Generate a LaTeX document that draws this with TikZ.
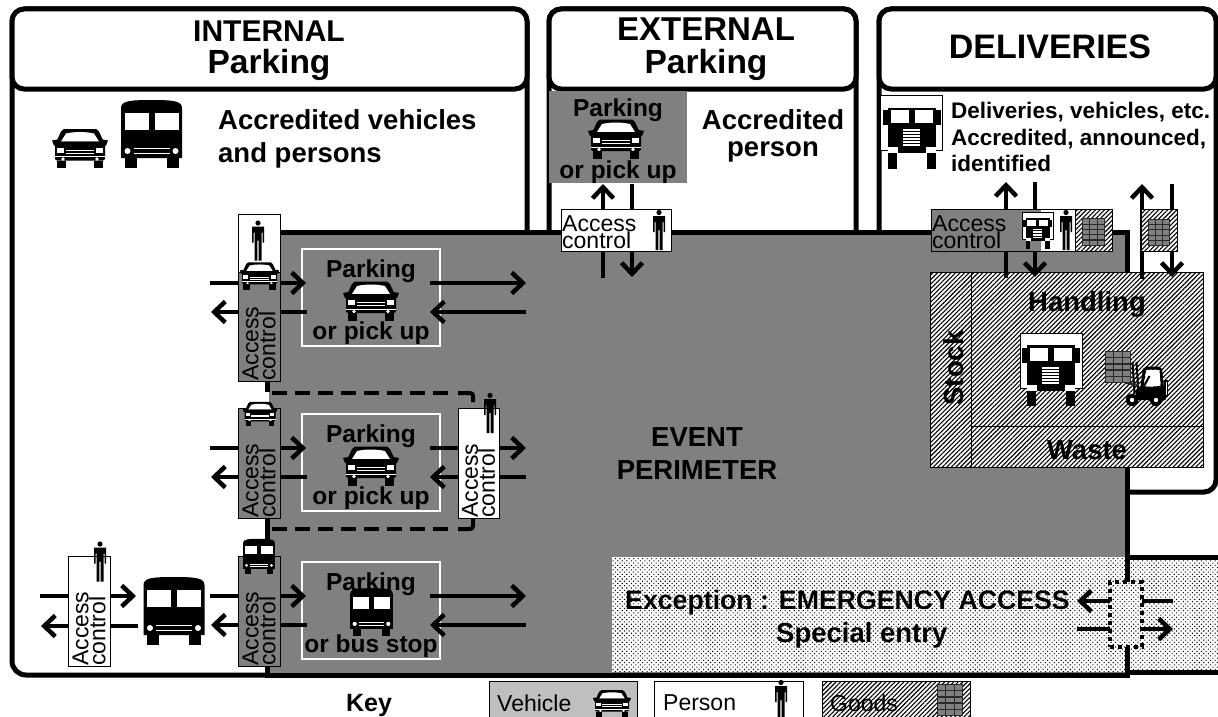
\documentclass[tikz,border=0pt]{standalone}
\usepackage{fontspec}
\setmainfont{Liberation Sans}
\usetikzlibrary{arrows.meta,patterns.meta}
\definecolor{zonegrey}{HTML}{808080}
\definecolor{keygrey}{HTML}{BFBFBF}
\definecolor{crategrey}{HTML}{2A2A2A}
\tikzset{
  frameline/.style={line width=5pt},
  titlebox/.style={draw,line width=5pt,rounded corners=12pt,fill=white,minimum height=80pt,inner sep=0pt},
  titletext/.style={font=\bfseries,align=center,inner sep=0pt},
  arw/.style={line width=4.5pt,-{Straight Barb[length=11pt,width=21pt,line width=4.5pt]}},
  hatchfill/.style={preaction={fill=white},pattern={Lines[angle=45,distance=3.2pt,line width=1.1pt]}},
  dotfill/.style={preaction={fill=white},pattern={Dots[angle=45,distance=3.2pt,radius=0.75pt]}},
  boldtext/.style={font=\fontsize{27.5}{33}\selectfont\bfseries,inner sep=0pt},
  parktext/.style={font=\fontsize{24.5}{28}\selectfont\bfseries,inner sep=0pt},
  accesstext/.style={font=\fontsize{23}{17}\selectfont,align=left,inner sep=0pt},
  keytext/.style={font=\fontsize{23}{26}\selectfont,inner sep=0pt,anchor=west},
  greygate/.style={draw,line width=1pt,fill=zonegrey,inner sep=0pt},
  whitegate/.style={draw,line width=1pt,fill=white,inner sep=0pt},
  parkframe/.style={draw=white,line width=2pt,inner sep=0pt,minimum width=138pt,minimum height=97pt},
  % icons, drawn at the size of the reference
  carpic/.pic={
    \fill (-16,-19.5) -- (16,-19.5) -- (19,-17) -- (24,-6) -- (-24,-6) -- (-19,-17) -- cycle;
    \fill[white] (-14,-15) .. controls (-5,-17) and (5,-17) .. (14,-15) -- (19,-7) -- (-19,-7) -- cycle;
    \fill (-28,-8) -- (-23,-9) -- (-23,-3) -- (-26,-3) -- cycle;
    \fill (28,-8) -- (23,-9) -- (23,-3) -- (26,-3) -- cycle;
    \fill[rounded corners=2pt] (-25,-7) rectangle (25,12);
    \fill[white] (-23,-1) rectangle (-16,4);
    \fill[white] (16,-1) rectangle (23,4);
    \fill[white] (-14,1) rectangle (14,2);
    \fill[white] (-14,4) rectangle (14,5);
    \fill[white] (-25,7.5) rectangle (25,8.5);
    \fill[white] (-17,10.5) circle (1.8);
    \fill[white] (17,10.5) circle (1.8);
    \fill (-23,12) rectangle (-14,19.5);
    \fill (14,12) rectangle (23,19.5);
  },
  buspic/.pic={
    \fill (-30.5,24) -- (-30.5,-26) .. controls (-30.5,-33) and (-22,-34) .. (0,-34)
      .. controls (22,-34) and (30.5,-33) .. (30.5,-26) -- (30.5,24) -- cycle;
    \fill[white] (-27,-21) rectangle (-3,-4);
    \fill[white] (3,-21) rectangle (27,-4);
    \fill[white] (-24,17) circle (3);
    \fill[white] (24,17) circle (3);
    \fill[white] (-18,14) rectangle (18,15);
    \fill[white] (-18,18.5) rectangle (18,19.5);
    \fill (-27,24) rectangle (-15,34);
    \fill (15,24) rectangle (27,34);
  },
  truckpic/.pic={
    \draw[line width=1pt,fill=white] (-31,-36.5) rectangle (31,18.5);
    \fill (-24,-24.5) rectangle (24,21);
    \fill (-29,-22) rectangle (-24,-7);
    \fill (29,-22) rectangle (24,-7);
    \fill[white] (-21,-22) rectangle (-3,-9);
    \fill[white] (3,-22) rectangle (21,-9);
    \fill[white] (-24,15) rectangle (-14,21);
    \fill[white] (14,15) rectangle (24,21);
    \foreach \gy in {-3,0,3,6,9,12}{
      \fill[white] (-9,\gy) rectangle (8,\gy+2);
    }
    \fill (-24,21) rectangle (-15,36.5);
    \fill (15,21) rectangle (24,36.5);
  },
  personpic/.pic={
    \fill (0,-17.5) circle (2.6);
    \fill (-6,-14) -- (6,-14) -- (6,2) -- (4.5,2) -- (4.5,-8) -- (3.5,-8) -- (3.5,20)
      -- (0.6,20) -- (0.6,0) -- (-0.6,0) -- (-0.6,20) -- (-3.5,20) -- (-3.5,-8)
      -- (-4.5,-8) -- (-4.5,2) -- (-6,2) -- cycle;
  },
  cratepic/.pic={
    \fill[crategrey] (-13,-16) rectangle (13,16);
    \foreach \cx in {-8.4,0,8.4}{
      \foreach \cy in {-12.4,-6.2,0,6.2,12.4}{
        \fill[zonegrey] (\cx-3.6,\cy-2.4) rectangle (\cx+3.6,\cy+2.4);
      }
    }
  },
  forkliftpic/.pic={
    \draw[line width=2pt] (-15,-22) -- (-13,10);
    \draw[line width=2pt] (-11,-22) -- (-9,10);
    \draw[line width=2pt,crategrey] (-22,-1) -- (-9,1);
    \draw[line width=3pt,rounded corners=2pt] (-6,6) -- (-3,-16) -- (13,-16) -- (15,4);
    \fill[white] (-1,-14) -- (12,-14) -- (13,2) -- (-4,3) -- cycle;
    \fill (-12,6) -- (-6,2) -- (4,3) -- (18,1) -- (18,16) -- (-12,16) -- cycle;
    \draw[line width=2pt] (2,-8) -- (-4,3);
    \fill (16,-4) rectangle (20.5,13);
    \fill[white] (18,-2) rectangle (19,11);
    \fill (-15.5,16) circle (6.2);
    \fill[white] (-15.5,16) circle (2.2);
    \fill (8.5,16) circle (6.2);
    \fill[white] (8.5,16) circle (2.2);
  }
}
\begin{document}
\begin{tikzpicture}[x=1pt,y=-1pt]
    \useasboundingbox (0,0) rectangle (1218,717);
    \clip (0,0) rectangle (1218,717);

    % Outer zones
    \draw[frameline,rounded corners=14pt] (527,232) -- (527,9) -- (12,9) -- (12,675) -- (269,675);
    \draw[frameline,rounded corners=12pt] (549,232) -- (549,9) -- (856,9) -- (856,232);
    \draw[frameline,rounded corners=12pt] (879,232) -- (879,9) -- (1216,9) -- (1216,492) -- (1127,492);
    \node[titlebox,minimum width=515pt] (headinternal) at (269.5,49) {};
    \node[titlebox,minimum width=307pt] (headexternal) at (702.5,49) {};
    \node[titlebox,minimum width=337pt] (headdeliveries) at (1047.5,49) {};
    \node[titletext] (titleinternal) at (269,51)
      {\fontsize{30}{31}\selectfont INTERNAL\\[7pt]\fontsize{33.5}{31}\selectfont Parking};
    \node[titletext] (titleexternal) at (706,49)
      {\fontsize{33}{33}\selectfont EXTERNAL\\[8pt]\fontsize{33.5}{33}\selectfont Parking};
    \node[titletext] (titledeliveries) at (1050,47)
      {\fontsize{34}{36}\selectfont DELIVERIES};

    % Event perimeter
    \fill[zonegrey] (269,232) rectangle (1127,675);
    \fill[dotfill] (612,557) rectangle (1218,672);
    \draw[frameline] (267,392) -- (267,232) -- (1127,232) -- (1127,675) -- (267,675) -- (267,518);
    \draw[frameline] (1127,557) -- (1218,557);
    \draw[frameline] (1127,672) -- (1218,672);
    \fill[zonegrey] (549,91) rectangle (687,183);

    % Second parking zone
    \draw[line width=4pt,dash pattern=on 15pt off 8pt] (272,393) -- (452,393);
    \draw[line width=4pt,rounded corners=3pt] (458,393) -- (473,393) -- (473,402);
    \draw[line width=4pt,dash pattern=on 15pt off 8pt] (272,529) -- (452,529);
    \draw[line width=4pt,rounded corners=3pt] (458,529) -- (473,529) -- (473,516);

    % Top texts and icons
    \pic at (80,148.5) {carpic};
    \pic at (151.5,134) {buspic};
    \node[boldtext,anchor=west,align=left] (intnote) at (218,139) {Accredited vehicles\\and persons};
    \node[parktext] (extpark) at (618,110) {Parking};
    \pic at (616,139) {carpic};
    \node[parktext] (extpick) at (618,172) {or pick up};
    \node[boldtext,align=center,font=\fontsize{27.5}{27}\selectfont\bfseries] (extnote) at (773,136) {Accredited\\person};
    \pic at (911.5,132) {truckpic};
    \node[font=\fontsize{22.5}{26.5}\selectfont\bfseries,inner sep=0pt,anchor=west,align=left] (delnote)
      at (951,137) {Deliveries, vehicles, etc.\\Accredited, announced,\\identified};

    % Connectors of the top zones
    \coordinate (extupS) at (603,278);   \coordinate (extupE) at (603,184);
    \coordinate (extdnS) at (632,184);   \coordinate (extdnE) at (632,277);
    \coordinate (delupS) at (1006,278);  \coordinate (delupE) at (1006,182);
    \coordinate (deldnS) at (1035,182);  \coordinate (deldnE) at (1035,277);
    \coordinate (gdsupS) at (1142,279);  \coordinate (gdsupE) at (1142,184);
    \coordinate (gdsdnS) at (1172,184);  \coordinate (gdsdnE) at (1172,277);
    \draw[arw] (extupS) -- (extupE);
    \draw[arw] (extdnS) -- (extdnE);

    % Delivery yard
    \node[draw,line width=1pt,hatchfill,minimum width=273pt,minimum height=195pt,inner sep=0pt] (yard) at (1066.5,369.5) {};
    \draw[line width=1pt] (971,272) -- (971,467);
    \draw[line width=1pt] (971,426) -- (1203,426);
    \node[boldtext] (handling) at (1087,304) {Handling};
    \node[boldtext] (waste) at (1087,450) {Waste};
    \node[boldtext,rotate=90] (stock) at (954,368) {Stock};
    \pic at (1051,369.5) {truckpic};
    \pic at (1118,367) {cratepic};
    \pic at (1147.5,384) {forkliftpic};
    \draw[arw] (delupS) -- (delupE);
    \draw[arw] (deldnS) -- (deldnE);
    \draw[arw] (gdsupS) -- (gdsupE);
    \draw[arw] (gdsdnS) -- (gdsdnE);

    % Access controls at the top
    \node[whitegate,minimum width=110pt,minimum height=42pt] (extgate) at (616,230) {};
    \node[accesstext,anchor=west] (extgatetext) at (562,232) {Access\\control};
    \pic at (659,230) {personpic};
    \fill[zonegrey] (931,209) rectangle (1040,251);
    \node[whitegate,minimum width=35pt,minimum height=42pt] (delgate) at (1057.5,230) {};
    \node[draw,line width=1pt,hatchfill,minimum width=37pt,minimum height=42pt,inner sep=0pt] (delgoods) at (1093.5,230) {};
    \draw[line width=1pt] (1040,209) -- (931,209) -- (931,251) -- (1040,251);
    \fill[zonegrey] (1039,209.5) rectangle (1041,250.5);
    \node[accesstext,anchor=west] (delgatetext) at (932,232) {Access\\control};
    \pic[scale=0.5] at (1037.5,230.5) {truckpic};
    \pic at (1066,230) {personpic};
    \pic[scale=0.85] at (1093.5,232) {cratepic};
    \node[draw,line width=1pt,hatchfill,minimum width=36pt,minimum height=42pt,inner sep=0pt] (gdsgate) at (1159,230) {};
    \pic[scale=0.85] at (1159,232.5) {cratepic};

    % Parking rows
    \foreach \n/\dy in {a/0,b/165,c/313}{
      \node[parkframe] (frame\n) at (371,297.5+\dy) {};
      \node[parktext] (park\n) at (371,271+\dy) {Parking};
      \coordinate (gatein\n) at (210,283+\dy);
      \coordinate (parkin\n) at (306,283+\dy);
      \coordinate (parkback\n) at (307,312+\dy);
      \coordinate (gateout\n) at (211,312+\dy);
      \coordinate (eventin\n) at (430,283+\dy);
      \coordinate (eventout\n) at (526,283+\dy);
      \coordinate (eventback\n) at (526,312+\dy);
      \coordinate (parkret\n) at (430,312+\dy);
      \draw[arw] (gatein\n) -- (parkin\n);
      \draw[arw] (parkback\n) -- (gateout\n);
      \draw[arw] (eventin\n) -- (eventout\n);
      \draw[arw] (eventback\n) -- (parkret\n);
    }
    \node[parktext] (picka) at (371,333) {or pick up};
    \node[parktext] (pickb) at (371,498) {or pick up};
    \node[parktext] (pickc) at (371,646) {or bus stop};
    \pic at (371,301) {carpic};
    \pic at (371,466) {carpic};
    \pic[scale=0.7] at (371.5,612) {buspic};

    % Access controls on the left
    \node[whitegate,minimum width=42pt,minimum height=60pt] (gatepers) at (259,244) {};
    \node[greygate,minimum width=42pt,minimum height=109pt] (gatea) at (259,326.5) {};
    \node[greygate,minimum width=42pt,minimum height=110pt] (gateb) at (259,463) {};
    \node[greygate,minimum width=42pt,minimum height=110pt] (gatec) at (259,611) {};
    \node[whitegate,minimum width=41pt,minimum height=110pt] (gated) at (478.5,463) {};
    \foreach \g/\bx/\by in {a/259/381,b/259/518,c/259/666,d/478.5/518}{
      \node[accesstext,rotate=90,anchor=west] (gatetext\g) at (\bx,\by) {Access\\control};
    }
    \pic at (258,240.5) {personpic};
    \pic[scale=0.7] at (259.5,276) {carpic};
    \pic[scale=0.62] at (260,414) {carpic};
    \pic[scale=0.52] at (259,556.5) {buspic};
    \pic at (490,413) {personpic};

    % Bus in front of the gate
    \coordinate (buscomeS) at (40,596);    \coordinate (buscomeE) at (136,596);
    \coordinate (busgoS) at (138,626);     \coordinate (busgoE) at (41,626);
    \draw[arw] (buscomeS) -- (buscomeE);
    \draw[arw] (busgoS) -- (busgoE);
    \pic at (174,611) {buspic};
    \node[whitegate,minimum width=42pt,minimum height=110pt] (gatee) at (89,611) {};
    \node[accesstext,rotate=90,anchor=west] (gatetexte) at (89,666) {Access\\control};
    \pic at (100,561.5) {personpic};

    % Event text
    \node[boldtext,align=center] (event) at (697,454) {EVENT\\PERIMETER};

    % Emergency access
    \coordinate (emgoS) at (1173,601);  \coordinate (emgoE) at (1077,601);
    \coordinate (emcoS) at (1077,629);  \coordinate (emcoE) at (1173,629);
    \draw[arw] (emgoS) -- (emgoE);
    \draw[arw] (emcoS) -- (emcoE);
    \node[draw,line width=4pt,dash pattern=on 4pt off 4pt,dotfill,minimum width=32pt,minimum height=65pt,inner sep=0pt] (emgate) at (1126,614.5) {};
    \node[font=\fontsize{26.7}{32}\selectfont\bfseries,inner sep=0pt,anchor=west] (emline) at (625,603) {Exception : EMERGENCY ACCESS};
    \node[boldtext,anchor=west] (emspecial) at (776,635) {Special entry};

    % Key
    \node[font=\fontsize{25}{28}\selectfont\bfseries,inner sep=0pt] (keyname) at (369,705) {Key};
    \node[draw,line width=1pt,fill=keygrey,minimum width=148pt,minimum height=50pt,inner sep=0pt] (keyveh) at (563,706) {};
    \node[draw,line width=1pt,fill=white,minimum width=149pt,minimum height=50pt,inner sep=0pt] (keypers) at (728.5,706) {};
    \node[draw,line width=1pt,hatchfill,minimum width=148pt,minimum height=50pt,inner sep=0pt] (keygoods) at (896,706) {};
    \node[keytext] (keyvehtext) at (497,703) {Vehicle};
    \node[keytext] (keyperstext) at (663,703) {Person};
    \node[keytext] (keygoodstext) at (830,703) {Goods};
    \pic[scale=0.68] at (612,703.5) {carpic};
    \pic at (781,700) {personpic};
    \pic at (950,700) {cratepic};
\end{tikzpicture}
\end{document}
